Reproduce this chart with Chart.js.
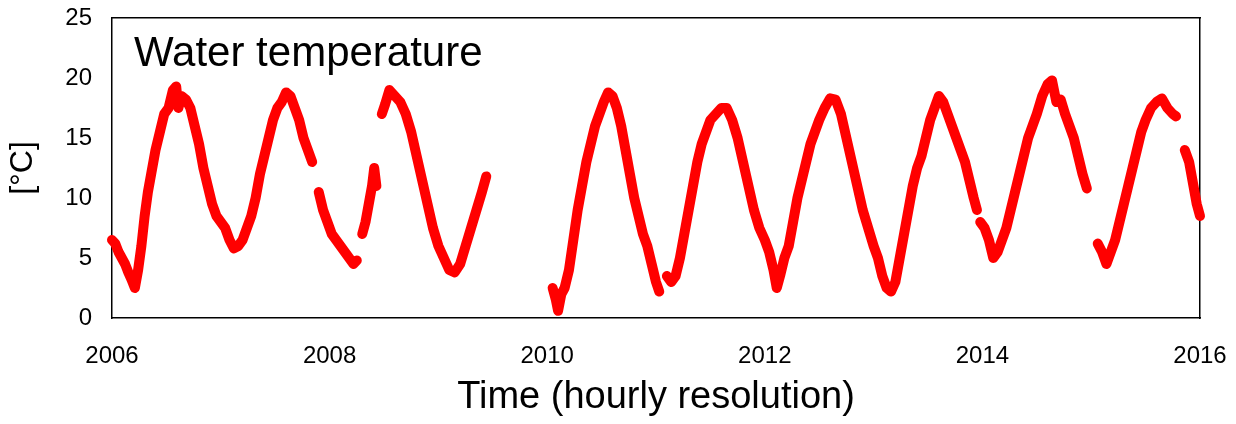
<!DOCTYPE html>
<html>
<head>
<meta charset="utf-8">
<script src="https://cdn.jsdelivr.net/npm/chart.js@4/dist/chart.umd.min.js"></script>
<style>
  html, body { margin: 0; padding: 0; background: #fff; }
  #wrap { width: 1236px; height: 424px; }
</style>
</head>
<body>
<div id="wrap"><canvas id="c"></canvas></div>
<script>
// decimal years, null = gap in the record
const years = [
  2006.00,2006.03,2006.06,2006.09,2006.12,2006.15,2006.18,2006.21,2006.24,2006.27,2006.30,2006.33,2006.36,2006.40,2006.44,2006.48,2006.52,2006.56,2006.59,2006.61,2006.64,2006.68,2006.72,2006.76,2006.80,2006.84,2006.88,2006.92,2006.96,2007.00,2007.04,2007.08,2007.12,2007.16,2007.20,2007.24,2007.28,2007.32,2007.36,2007.40,2007.44,2007.48,2007.52,2007.56,2007.60,2007.64,2007.68,2007.72,2007.76,2007.80,2007.84,
  2007.88,
  2007.90,2007.94,2007.98,2008.02,2008.06,2008.10,2008.14,2008.18,2008.22,2008.25,
  2008.27,
  2008.30,2008.33,2008.36,2008.39,2008.41,2008.43,
  2008.45,
  2008.48,2008.51,2008.55,2008.60,2008.65,2008.70,2008.75,2008.80,2008.85,2008.90,2008.95,2009.00,2009.05,2009.10,2009.15,2009.20,2009.25,2009.30,2009.35,2009.40,2009.44,
  2009.70,
  2010.05,2010.08,2010.10,2010.13,2010.16,2010.20,2010.24,2010.28,2010.32,2010.36,2010.40,2010.44,2010.48,2010.52,2010.56,2010.60,2010.64,2010.68,2010.72,2010.76,2010.80,2010.84,2010.88,2010.92,2010.96,2011.00,2011.03,
  2011.07,
  2011.10,2011.14,2011.18,2011.22,2011.26,2011.30,2011.34,2011.38,2011.42,2011.46,2011.50,2011.55,2011.60,2011.65,2011.70,2011.75,2011.80,2011.85,2011.90,2011.95,2012.00,2012.04,2012.08,2012.11,2012.14,2012.18,2012.22,2012.26,2012.30,2012.34,2012.38,2012.42,2012.46,2012.50,2012.55,2012.60,2012.65,2012.70,2012.75,2012.80,2012.85,2012.90,2012.95,2013.00,2013.04,2013.08,2013.12,2013.16,2013.20,2013.24,2013.28,2013.32,2013.36,2013.40,2013.44,2013.48,2013.52,2013.56,2013.60,2013.64,2013.68,2013.72,2013.76,2013.80,2013.84,2013.88,2013.92,2013.95,
  2013.965,
  2013.98,2014.02,2014.06,2014.10,2014.14,2014.18,2014.22,2014.26,2014.30,2014.34,2014.38,2014.42,2014.46,2014.50,2014.55,2014.60,2014.64,2014.68,2014.72,2014.76,2014.80,2014.84,2014.88,2014.92,2014.96,
  2015.01,
  2015.06,2015.10,2015.14,2015.18,2015.22,2015.26,2015.30,2015.34,2015.38,2015.42,2015.46,2015.50,2015.55,2015.60,2015.65,2015.70,2015.75,2015.78,
  2015.82,
  2015.86,2015.90,2015.94,2015.97,2016.00
];
const temps = [
  6.5,6.2,5.5,5,4.5,3.8,3.2,2.5,4,6,8.5,10.5,12,14,15.5,17,17.5,19,19.3,17.5,18.5,18.2,17.5,16,14.5,12.5,11,9.5,8.5,8,7.5,6.5,5.8,6,6.5,7.5,8.5,10,12,13.5,15,16.5,17.5,18,18.8,18.5,17.5,16.5,15,14,13,
  null,
  10.5,9,8,7,6.5,6,5.5,5,4.5,4.8,
  null,
  7,8,9.5,11,12.5,11,
  null,
  17,17.8,19,18.5,18,17,15.5,13.5,11.5,9.5,7.5,6,5,4,3.8,4.5,6,7.5,9,10.5,11.8,
  null,
  2.5,1.5,0.6,2,2.5,4,6.5,9,11,13,14.5,16,17,18,18.8,18.5,17.5,16,14,12,10,8.5,7,6,4.5,3,2.2,
  null,
  3.5,3,3.5,5,7,9,11,13,14.5,15.5,16.5,17,17.5,17.5,16.5,15,13,11,9,7.5,6.5,5.5,4,2.5,3.5,5,6,8,10,11.5,13,14.5,15.5,16.5,17.5,18.3,18.2,17,15,13,11,9,7.5,6,5,3.5,2.5,2.2,3,5,7,9,11,12.5,13.5,15,16.5,17.5,18.5,18,17,16,15,14,13,11.5,10,9,
  null,
  8,7.5,6.5,5,5.5,6.5,7.5,9,10.5,12,13.5,15,16,17,18.5,19.5,19.8,18,18.2,17,16,15,13.5,12,10.8,
  null,
  6.2,5.5,4.5,5.5,6.5,8,9.5,11,12.5,14,15.5,16.5,17.5,18,18.3,17.5,17,16.8,
  null,
  14,13,11,9.5,8.5
];
const xTicks = [2006, 2008, 2010, 2012, 2014, 2016];
const yTicks = [0, 5, 10, 15, 20, 25];

const points = years.map((x, i) => ({ x, y: temps[i] }));

const titlePlugin = {
  id: 'innerTitle',
  afterDraw(chart) {
    const c = chart.ctx;
    c.save();
    c.font = '42px "Liberation Sans", Arial, sans-serif';
    c.fillStyle = '#000';
    c.textBaseline = 'middle';
    c.fillText('Water temperature', 134, 54);
    c.restore();
  }
};

const FONT = '"Liberation Sans", Arial';

new Chart(document.getElementById('c'), {
  type: 'line',
  data: {
    datasets: [{
      data: points,
      borderColor: '#ff0000',
      backgroundColor: '#ff0000',
      borderWidth: 10,
      borderCapStyle: 'round',
      borderJoinStyle: 'round',
      pointRadius: 0,
      tension: 0,
      spanGaps: false,
      clip: false,
    }]
  },
  plugins: [titlePlugin],
  options: {
    responsive: true,
    maintainAspectRatio: false,
    animation: false,
    layout: { padding: { top: 0, right: 36, left: 0, bottom: 0 } },
    plugins: { legend: { display: false }, tooltip: { enabled: false } },
    scales: {
      x: {
        type: 'linear', min: 2006, max: 2016,
        afterFit: s => { s.height = 106; s.paddingLeft = 0; s.paddingRight = 0; },
        afterBuildTicks: s => { s.ticks = xTicks.map(v => ({ value: v })); },
        grid: { display: false },
        border: { color: '#000', width: 1.5 },
        ticks: { color: '#000', font: { size: 24, family: FONT }, maxRotation: 0, padding: 16,
                 callback: v => String(v) },
        title: { display: true, text: 'Time (hourly resolution)', color: '#000',
                 font: { size: 38, family: FONT }, padding: { top: 8 } }
      },
      y: {
        min: 0, max: 25,
        afterFit: s => { s.width = 112; s.paddingTop = 0; s.paddingBottom = 0; },
        afterBuildTicks: s => { s.ticks = yTicks.map(v => ({ value: v })); },
        grid: { display: false },
        border: { color: '#000', width: 1.5 },
        ticks: { color: '#000', font: { size: 24, family: FONT }, padding: 12 },
        title: { display: true, text: '[°C]', color: '#000',
                 font: { size: 32, family: FONT }, padding: { bottom: 4 } }
      },
      x2: { position: 'top', type: 'linear', min: 2006, max: 2016, display: true,
            grid: { display: false }, ticks: { display: false }, border: { color: '#000', width: 1.5 },
            afterFit: s => { s.height = 18; } },
      y2: { position: 'right', min: 0, max: 25, grid: { display: false }, ticks: { display: false },
            border: { color: '#000', width: 1.5 }, afterFit: s => { s.width = 0; } }
    }
  }
});
</script>
</body>
</html>
